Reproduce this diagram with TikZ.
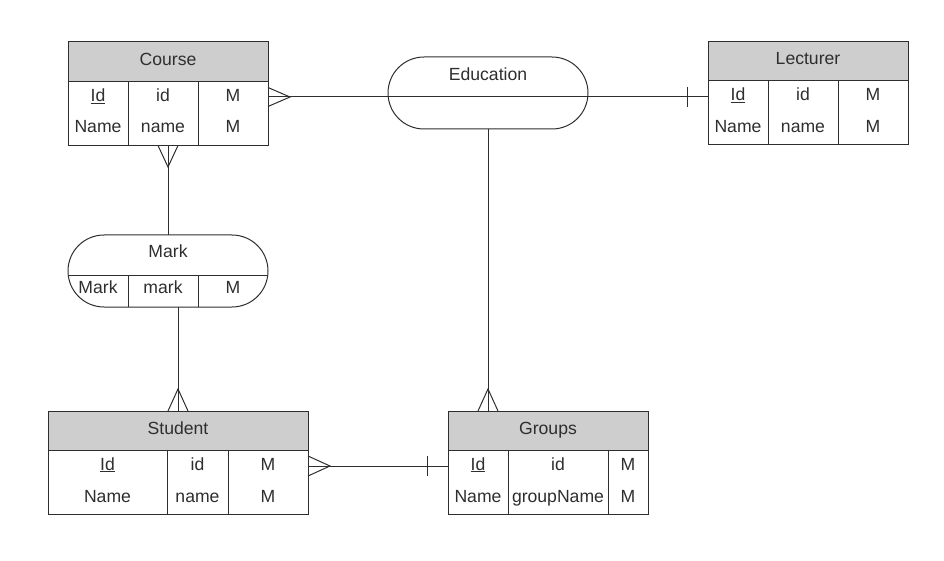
\documentclass[tikz,border=0pt]{standalone}
\usepackage{fontspec}
\setmainfont{Liberation Sans}
\usetikzlibrary{shapes.misc}
\definecolor{ink}{HTML}{2E2E2E}
\definecolor{hdr}{HTML}{CECECE}

% column positions of the current table
\newcommand\ercols[4]{\def\xa{#1}\def\xb{#2}\def\xc{#3}\def\xd{#4}}
% table frame: name, top, header bottom, bottom, title
\newcommand\erbox[5]{%
  \fill[hdr] (\xa,#2) rectangle (\xd,#3);
  \node[entity, anchor=north west, minimum width={(\xd-\xa)*1pt},
        minimum height={(#4-#2)*1pt}] (#1) at (\xa,#2) {};
  \draw (\xa,#3) -- (\xd,#3) (\xb,#3) -- (\xb,#4) (\xc,#3) -- (\xc,#4);
  \node[lbl] (#1-title) at ({(\xa+\xd)/2},{#3-16}) {#5};}
% one attribute row: prefix, baseline, three cells
\newcommand\errow[5]{%
  \node[lbl] (#1-a) at ({(\xa+\xb)/2},#2) {#3};
  \node[lbl] (#1-b) at ({(\xb+\xc)/2},#2) {#4};
  \node[lbl] (#1-c) at ({(\xc+\xd)/2},#2) {#5};}

\begin{document}
\begin{tikzpicture}[x=1pt,y=-1pt,line width=1pt,draw=ink,
  entity/.style={draw=ink,inner sep=0pt,outer sep=0pt},
  relbox/.style={draw=ink,rounded rectangle,inner sep=0pt,outer sep=0pt,
    minimum width=200pt,minimum height=72pt},
  lbl/.style={text=ink,font=\fontsize{17.6}{20}\selectfont,inner sep=0pt,anchor=base}]
\useasboundingbox (0,0) rectangle (944,561);

% Course
\ercols{68}{128}{198}{268}
\erbox{course}{42}{81.5}{145.5}{Course}
\errow{course-r1}{101.5}{\underline{Id}}{id}{M}
\errow{course-r2}{133}{Name}{name}{M}

% Lecturer
\ercols{708}{768}{838}{908}
\erbox{lect}{42}{81}{145}{Lecturer}
\errow{lect-r1}{101}{\underline{Id}}{id}{M}
\errow{lect-r2}{132.5}{Name}{name}{M}

% Student
\ercols{48}{167}{228}{308}
\erbox{student}{411}{450}{514}{Student}
\errow{student-r1}{470}{\underline{Id}}{id}{M}
\errow{student-r2}{502}{Name}{name}{M}

% Groups
\ercols{448}{508}{608}{648}
\erbox{groups}{411}{450}{514}{Groups}
\errow{groups-r1}{470}{\underline{Id}}{id}{M}
\errow{groups-r2}{502}{Name}{groupName}{M}

% Education relation
\node[relbox] (edu) at (488,93) {};
\node[lbl] (edu-title) at (488,81) {Education};

% Mark relation with its attribute row
\node[relbox] (mark) at (168,271) {};
\draw (68,275) -- (268,275) (128,275) -- (128,307) (198,275) -- (198,307);
\node[lbl] (mark-title) at (168,258) {Mark};
\ercols{68}{128}{198}{268}
\errow{mark-r1}{293}{Mark}{mark}{M}

% attachment points
\coordinate (crs-e) at (268,97);
\coordinate (lect-w) at (708,97);
\coordinate (stu-e) at (308,466);
\coordinate (grp-w) at (448,466);

% Course -- Education -- Lecturer
\draw (crs-e) -- (lect-w);
\draw (crs-e) ++(0,-9.5) -- ++(22,9.5) -- ++(-22,9.5);
\draw (lect-w) ++(-21,-10) -- ++(0,20);

% Course -- Mark
\draw (course.south) -- (mark.north);
\draw (course.south) ++(-10,0) -- ++(10,21.5) -- ++(10,-21.5);

% Mark -- Student
\draw (mark.south -| student.north) -- (student.north);
\draw (student.north) ++(-10,0) -- ++(10,-22) -- ++(10,22);

% Education -- Groups
\draw (edu.south) -- (edu.south |- groups.north);
\draw (edu.south |- groups.north) ++(-10,0) -- ++(10,-22) -- ++(10,22);

% Student -- Groups
\draw (stu-e) -- (grp-w);
\draw (stu-e) ++(0,-10) -- ++(22,10) -- ++(-22,10);
\draw (grp-w) ++(-21,-10) -- ++(0,20);
\end{tikzpicture}
\end{document}
